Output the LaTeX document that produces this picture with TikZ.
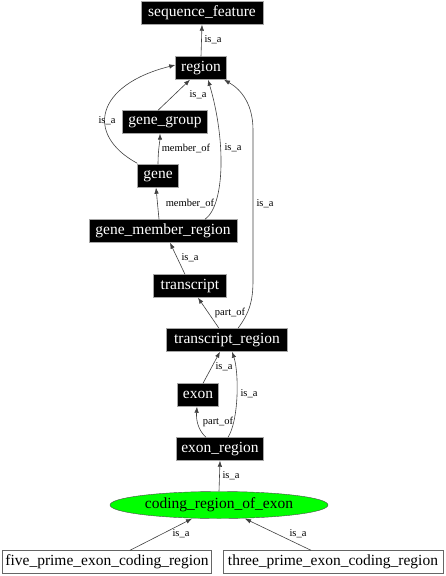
\documentclass[tikz,border=0pt]{standalone}
\usepackage{fontspec}
\setmainfont{Liberation Serif}
\usetikzlibrary{arrows.meta,shapes.geometric}
\begin{document}
\begin{tikzpicture}[x=1pt,y=-1pt,
  blk/.style={draw=gray!70,fill=black,text=white,font=\fontsize{15.5}{15.5}\selectfont,inner sep=0pt,minimum height=23pt},
  wht/.style={draw=gray!80!black,fill=white,text=black,font=\fontsize{15.5}{15.5}\selectfont,inner sep=0pt,minimum height=23pt},
  ell/.style={ellipse,draw=gray!60!black,fill=green,font=\fontsize{15.5}{15.5}\selectfont,inner sep=0pt,minimum width=218pt,minimum height=27pt},
  edge/.style={draw=black!75,line width=0.6pt,-{Latex[length=6pt,width=4.5pt]}},
  lab/.style={font=\fontsize{10.5}{10.5}\selectfont,inner sep=1pt}]
\useasboundingbox (0,0) rectangle (446,576);
\node[blk,minimum width=122pt] (sf) at (202,13) {sequence\_feature};
\node[blk,minimum width=51pt] (reg) at (201,68) {region};
\node[blk,minimum width=85pt] (gg) at (165,122) {gene\_group};
\node[blk,minimum width=41pt] (gene) at (158,176) {gene};
\node[blk,minimum width=148pt] (gmr) at (163,231) {gene\_member\_region};
\node[blk,minimum width=73pt] (tx) at (190,286) {transcript};
\node[blk,minimum width=121pt] (tr) at (227,340) {transcript\_region};
\node[blk,minimum width=41pt] (exon) at (198,395) {exon};
\node[blk,minimum width=87pt] (er) at (220,449) {exon\_region};
\node[ell] (cre) at (219,505) {coding\_region\_of\_exon};
\node[wht,minimum width=209pt] (five) at (107,562) {five\_prime\_exon\_coding\_region};
\node[wht,minimum width=220pt] (three) at (333,562) {three\_prime\_exon\_coding\_region};

\draw[edge] (reg.north) -- (sf.south);
\node[lab] at (213,40) {is\_a};

\draw[edge] ([xshift=-7pt]gg.north) -- ([xshift=-11pt]reg.south);
\node[lab] at (198,95) {is\_a};

\draw[edge] ([yshift=1pt]gene.north west) .. controls (85,135) and (95,85) .. ([yshift=3pt]reg.west);
\node[lab] at (107,121) {is\_a};

\draw[edge] (gene.north) .. controls (158,150) and (160,140) .. ([xshift=-5pt]gg.south);
\node[lab] at (186,148) {member\_of};

\draw[edge] ([xshift=42pt]gmr.north) .. controls (225,205) and (226,140) .. ([xshift=7pt]reg.south);
\node[lab] at (233,148) {is\_a};

\draw[edge] ([xshift=-4pt]gmr.north) -- ([xshift=-2pt]gene.south);
\node[lab] at (190,203) {member\_of};

\draw[edge] ([xshift=11pt]tr.north) .. controls (250,312) and (253,300) .. (253,280) -- (253,130) .. controls (253,105) and (242,90) .. ([xshift=23pt]reg.south);
\node[lab] at (265,204) {is\_a};

\draw[edge] ([xshift=-5pt]tx.north) -- ([xshift=7pt]gmr.south);
\node[lab] at (190,258) {is\_a};

\draw[edge] ([xshift=-8pt]tr.north) -- ([xshift=8pt]tx.south);
\node[lab] at (230,313) {part\_of};

\draw[edge] ([xshift=5pt]exon.north) -- ([xshift=-7pt]tr.south);
\node[lab] at (224,367) {is\_a};

\draw[edge] ([xshift=8pt]er.north) .. controls (239,420) and (239,372) .. ([xshift=5pt]tr.south);
\node[lab] at (249,394) {is\_a};

\draw[edge] ([xshift=-14pt]er.north) .. controls (198,430) and (196,420) .. ([xshift=-1pt]exon.south);
\node[lab] at (218,422) {part\_of};

\draw[edge] (cre.north) -- (er.south);
\node[lab] at (231,476) {is\_a};

\draw[edge] ([xshift=23pt]five.north) -- ([xshift=-27pt]cre.south);
\node[lab] at (181,534) {is\_a};

\draw[edge] ([xshift=-22pt]three.north) -- ([xshift=26pt]cre.south);
\node[lab] at (298,534) {is\_a};
\end{tikzpicture}
\end{document}
